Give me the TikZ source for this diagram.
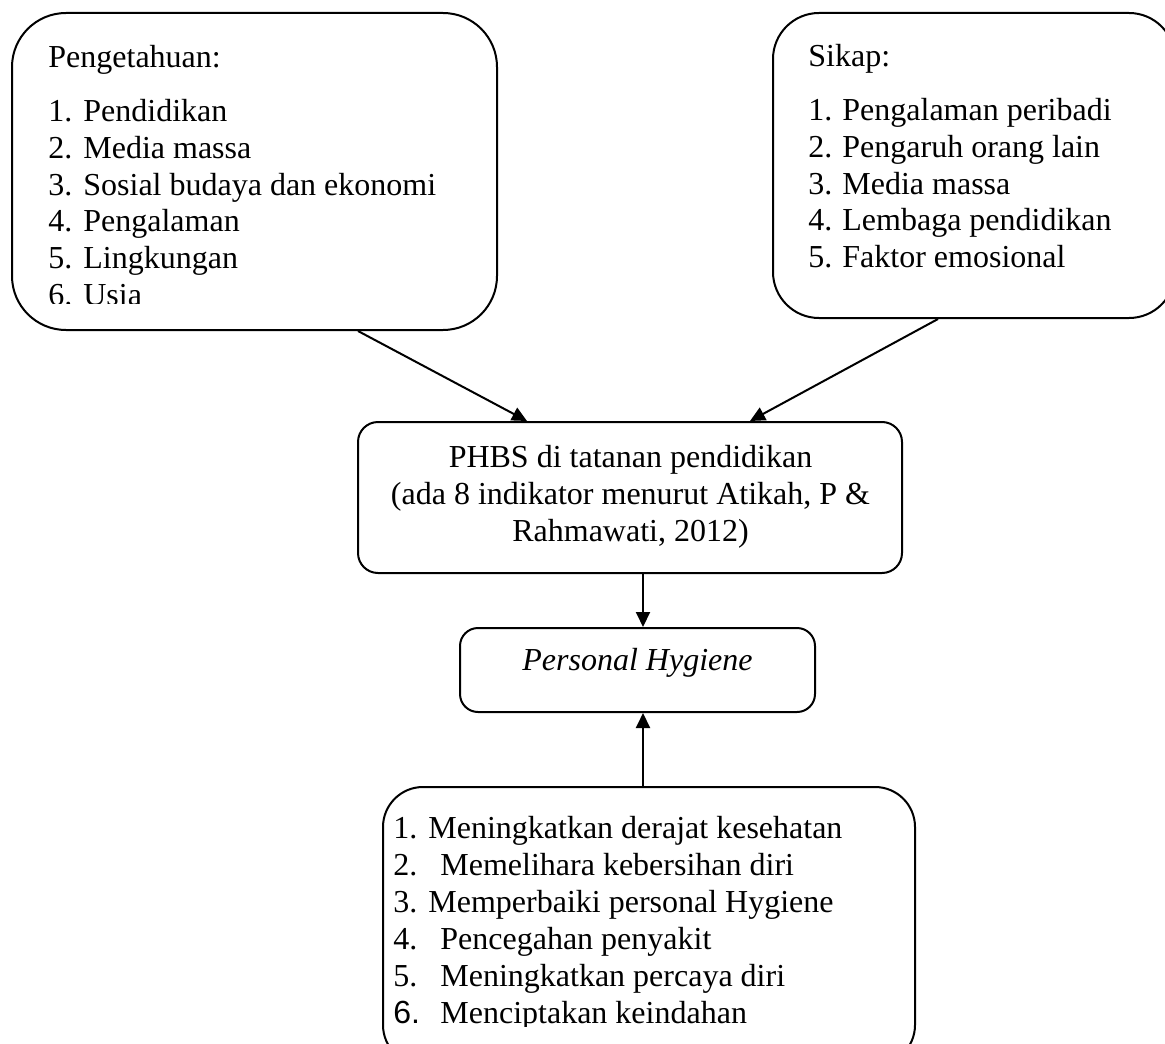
\documentclass[tikz,border=0pt]{standalone}
\usepackage{fontspec}
\setmainfont{Liberation Serif}
\newfontfamily\numfont{Liberation Sans}
\usetikzlibrary{arrows.meta}

% number column of the lists
\newcommand{\numlabel}[2]{\makebox[#1][l]{#2}}

\begin{document}
\begin{tikzpicture}[x=0.5pt, y=-0.5pt,
		box/.style={draw=black, line width=1pt, rectangle, inner sep=0pt},
		txt/.style={anchor=base west, inner sep=0pt, font=\fontsize{16}{18.5}\selectfont},
		arr/.style={line width=1pt, -{Triangle[length=7.5pt, width=7pt]}}]
	\path[use as bounding box, clip] (0,0) rectangle (1165,1043);
	% Outline boxes
	\node[box, rounded corners=27pt, minimum width=242.5pt, minimum height=158.5pt] (pengetahuan) at (254.5,171.5) {};
	\node[box, rounded corners=23pt, minimum width=201pt, minimum height=152.5pt] (sikap) at (974,165.5) {};
	\node[box, rounded corners=10pt, minimum width=272pt, minimum height=75.5pt] (phbs) at (630,497.5) {};
	\node[box, rounded corners=9pt, minimum width=177.5pt, minimum height=42pt] (hygiene) at (637.5,670) {};
	\node[box, rounded corners=20pt, minimum width=266pt, minimum height=139pt] (manfaat) at (649,926) {};
	% Pengetahuan
	\node[txt] (p0) at (48,68) {Pengetahuan:};
	\begin{scope}
		\clip (0,0) rectangle (1165,303);
		\foreach \t [count=\i] in {Pendidikan, Media massa, Sosial budaya dan ekonomi, Pengalaman, Lingkungan, Usia}
			\node[txt] (p\i) at (48,{122+36.6*(\i-1)}) {\numlabel{17.5pt}{\i.}\t};
	\end{scope}
	% Sikap
	\node[txt] (s0) at (808,67) {Sikap:};
	\foreach \t [count=\i] in {Pengalaman peribadi, Pengaruh orang lain, Media massa, Lembaga pendidikan, Faktor emosional}
		\node[txt] (s\i) at (808,{121+36.5*(\i-1)}) {\numlabel{17pt}{\i.}\t};
	% PHBS and Personal Hygiene
	\node[txt, anchor=base] (phbs1) at (630.5,467) {PHBS di tatanan pendidikan};
	\node[txt, anchor=base] (phbs2) at (630.5,504) {(ada 8 indikator menurut Atikah, P \&};
	\node[txt, anchor=base] (phbs3) at (630.5,541) {Rahmawati, 2012)};
	\node[txt, anchor=base] (hygiene1) at (637.5,670) {\textit{Personal Hygiene}};
	% Manfaat
	\begin{scope}
		\clip (0,0) rectangle (1165,1026);
		\foreach \w/\n/\t [count=\i] in {17.5pt/1./Meningkatkan derajat kesehatan, 23.5pt/2./Memelihara kebersihan diri, 17.5pt/3./Memperbaiki personal Hygiene, 23.5pt/4./Pencegahan penyakit, 23.5pt/5./Meningkatkan percaya diri, 23.5pt/{\numfont 6.}/Menciptakan keindahan}
			\node[txt] (m\i) at (393,{838+37*(\i-1)}) {\numlabel{\w}{\n}\t};
	\end{scope}
	% Connectors
	\draw[arr] ([shift={(103.5,0)}]pengetahuan.south) -- ([shift={(-103,0)}]phbs.north);
	\draw[arr] ([shift={(-36,0)}]sikap.south) -- ([shift={(120,0)}]phbs.north);
	\draw[arr] ([shift={(13,0)}]phbs.south) -- ([shift={(5.5,0)}]hygiene.north);
	\draw[arr] ([shift={(-6,0)}]manfaat.north) -- ([shift={(5.5,0)}]hygiene.south);
\end{tikzpicture}
\end{document}
